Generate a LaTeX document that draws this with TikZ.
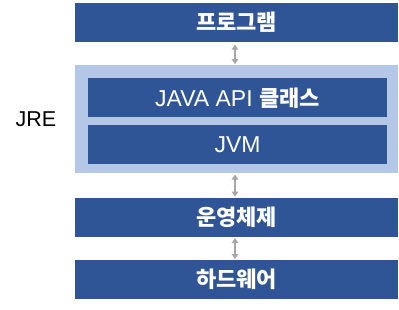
\documentclass[tikz,border=0pt]{standalone}
\usepackage{fontspec}
\setmainfont{Liberation Sans}
\newfontfamily\krfont{Noto Sans CJK KR}
\usetikzlibrary{positioning,arrows.meta}
\definecolor{layer}{HTML}{2F5597}
\definecolor{jrebg}{HTML}{B4C7E7}
\definecolor{link}{HTML}{A6A6A6}
\newcommand{\kr}[1]{{\krfont\bfseries\fontsize{22}{24}\selectfont #1}}

\begin{document}
\begin{tikzpicture}[
    x=1pt, y=-1pt,
    outerbox/.style={rectangle, fill=layer, text=white, minimum width=323pt, minimum height=39pt, inner sep=0pt, font=\fontsize{23}{26}\selectfont},
    innerbox/.style={outerbox, minimum width=299pt},
    arrow/.style={{Triangle[length=5pt,width=6.5pt]}-{Triangle[length=5pt,width=6.5pt]}, link, line width=2pt}
]
\useasboundingbox (0,0) rectangle (399,309);

% Layers
\node[outerbox] (program) at (236.5,22.5) {\kr{프로그램}};
\node[rectangle, fill=jrebg, minimum width=323pt, minimum height=108pt, inner sep=0pt, below=23pt of program] (jre) {};
\node[innerbox, below=13pt of jre.north, xshift=1pt] (api) {JAVA API \kr{클래스}};
\node[innerbox, below=7pt of api] (jvm) {JVM};
\node[outerbox, below=24pt of jre] (os) {\kr{운영체제}};
\node[outerbox, below=23pt of os] (hw) {\kr{하드웨어}};

% Label
\node[font=\fontsize{21.5}{24}\selectfont] (jrelabel) at (36,119.5) {JRE};

% Arrows
\draw[arrow] ([xshift=-1.5pt,yshift=-2.5pt]program.south) -- ([xshift=-1.5pt,yshift=1pt]jre.north);
\draw[arrow] ([xshift=-1.5pt,yshift=-1pt]jre.south) -- ([xshift=-1.5pt,yshift=1pt]os.north);
\draw[arrow] ([xshift=-1.5pt,yshift=-1pt]os.south) -- ([xshift=-1.5pt,yshift=1pt]hw.north);

\end{tikzpicture}
\end{document}
